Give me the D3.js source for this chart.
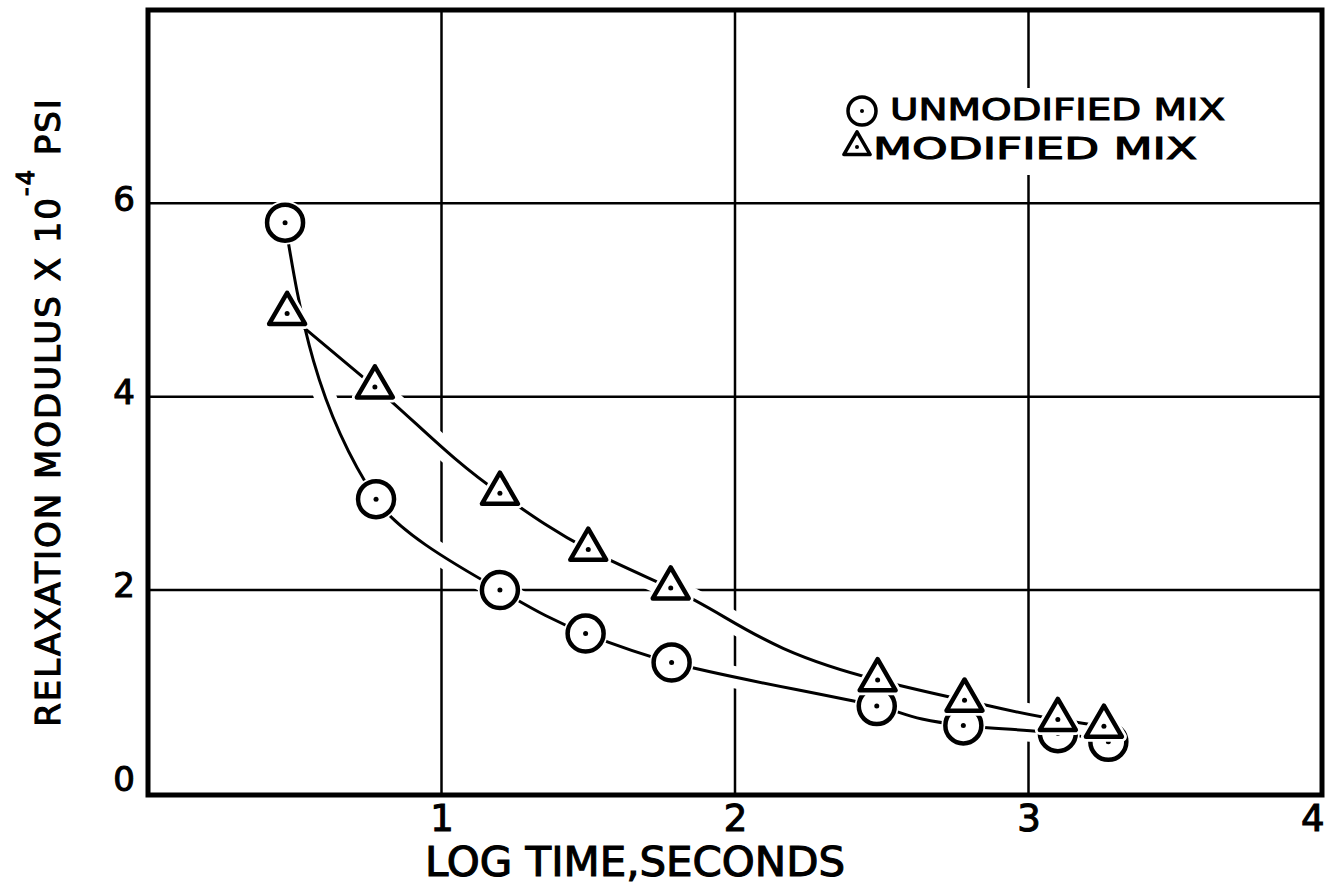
<!DOCTYPE html>
<html>
<head>
<meta charset="utf-8">
<script src="https://cdn.jsdelivr.net/npm/d3@7"></script>
<style>
	body { margin: 0; background: #fff; }
	svg { display: block; }
	text { font-family: "DejaVu Sans", sans-serif; fill: #000; stroke: #000; stroke-width: 1.1px; }
</style>
</head>
<body>
<div id="chart"></div>
<script>
// log time (seconds) and relaxation modulus x 10^-4 psi
var unmodTime  = [0.467, 0.777, 1.199, 1.491, 1.784, 2.483, 2.778, 3.10, 3.272];
var unmodValue = [5.80,  2.94,  2.00,  1.55,  1.25,  0.80,  0.60,  0.52, 0.43];
var modTime    = [0.474, 0.773, 1.199, 1.50,  1.781, 2.486, 2.782, 3.10, 3.257];
var modValue   = [4.86,  4.10,  3.00,  2.42,  2.02,  1.07,  0.86,  0.66, 0.59];

var xTicks     = [1, 2, 3, 4];
var yTicks     = [0, 2, 4, 6];
var xGrid      = [1, 2, 3];
var yGrid      = [2, 4, 6];
var legendText = ['UNMODIFIED MIX', 'MODIFIED MIX'];

var width = 1328, height = 889;
var margin = {top: 10, right: 6, bottom: 94, left: 148};

var svg = d3.select('#chart').append('svg')
	.attr('width', width)
	.attr('height', height);

var x = d3.scaleLinear()
	.domain([0, 4])
	.range([margin.left, width - margin.right]);

// the hand drawn base line sits a bit below the zero level
var y = d3.scaleLinear()
	.domain([-0.12, 8])
	.range([height - margin.bottom, margin.top]);

var unmod = unmodTime.map(function(t, i) { return {x: t, y: unmodValue[i]}; });
var mod   = modTime.map(function(t, i) { return {x: t, y: modValue[i]}; });

// grid
var grid = svg.append('g').attr('stroke', '#000').attr('stroke-width', 2.5);
grid.selectAll('.vgrid')
	.data(xGrid)
	.enter().append('line')
	.attr('x1', function(d) { return x(d); })
	.attr('x2', function(d) { return x(d); })
	.attr('y1', y.range()[1])
	.attr('y2', y.range()[0]);
grid.selectAll('.hgrid')
	.data(yGrid)
	.enter().append('line')
	.attr('y1', function(d) { return y(d); })
	.attr('y2', function(d) { return y(d); })
	.attr('x1', x.range()[0])
	.attr('x2', x.range()[1]);

// tick labels
var xAxis = d3.axisBottom(x).tickValues(xTicks).tickSize(0).tickPadding(10)
	.tickFormat(d3.format('d'));
var gx = svg.append('g')
	.attr('transform', 'translate(0,' + y.range()[0] + ')')
	.call(xAxis);
gx.select('.domain').remove();
gx.selectAll('text')
	.style('font-size', '37px')
	.attr('fill', '#000');
// last label would run off the page, keep it inside like the original
gx.selectAll('text').filter(function(d) { return d === 4; })
	.attr('text-anchor', 'end')
	.attr('x', 2);

var yAxis = d3.axisLeft(y).tickValues(yTicks).tickSize(0).tickPadding(13);
var gy = svg.append('g')
	.attr('transform', 'translate(' + x.range()[0] + ',0)')
	.call(yAxis);
gy.select('.domain').remove();
gy.selectAll('text')
	.style('font-size', '34px')
	.attr('dy', '0.2em')
	.attr('fill', '#000');

// curves: white halo first so the grid is broken where a curve crosses it
var line = d3.line()
	.x(function(d) { return x(d.x); })
	.y(function(d) { return y(d.y); })
	.curve(d3.curveMonotoneY);

var curves = svg.append('g').attr('fill', 'none');
[unmod, mod].forEach(function(s) {
	curves.append('path')
		.attr('d', line(s))
		.attr('stroke', '#fff')
		.attr('stroke-width', 22);
});
[unmod, mod].forEach(function(s) {
	curves.append('path')
		.attr('d', line(s))
		.attr('stroke', '#000')
		.attr('stroke-width', 3);
});

// markers
var tri = d3.symbol().type(d3.symbolTriangle).size(560);

function drawCircles(g, data, r) {
	var m = g.selectAll(null)
		.data(data)
		.enter().append('g')
		.attr('transform', function(d) { return 'translate(' + x(d.x) + ',' + y(d.y) + ')'; });
	m.append('circle').attr('r', r + 4).attr('fill', '#fff');
	m.append('circle').attr('r', r)
		.attr('fill', '#fff').attr('stroke', '#000').attr('stroke-width', 4.5);
	m.append('circle').attr('r', 2.5).attr('fill', '#000');
}

function drawTriangles(g, data) {
	var m = g.selectAll(null)
		.data(data)
		.enter().append('g')
		.attr('transform', function(d) { return 'translate(' + x(d.x) + ',' + y(d.y) + ')'; });
	m.append('path').attr('d', tri)
		.attr('fill', '#fff').attr('stroke', '#fff').attr('stroke-width', 10).attr('stroke-linejoin', 'round');
	m.append('path').attr('d', tri)
		.attr('fill', '#fff').attr('stroke', '#000').attr('stroke-width', 4.5).attr('stroke-linejoin', 'round');
	m.append('circle').attr('r', 2.5).attr('fill', '#000');
}

var marks = svg.append('g');
drawCircles(marks.append('g'), unmod, 18);
drawTriangles(marks.append('g'), mod);

// frame
svg.append('rect')
	.attr('x', x.range()[0])
	.attr('y', y.range()[1])
	.attr('width', x.range()[1] - x.range()[0])
	.attr('height', y.range()[0] - y.range()[1])
	.attr('fill', 'none')
	.attr('stroke', '#000')
	.attr('stroke-width', 5);

// legend
var legend = svg.append('g');
legend.append('rect')
	.attr('x', 840).attr('y', 88)
	.attr('width', 395).attr('height', 87)
	.attr('fill', '#fff');

var lc = legend.append('g').attr('transform', 'translate(862,111)');
lc.append('circle').attr('r', 14).attr('fill', '#fff').attr('stroke', '#000').attr('stroke-width', 3.5);
lc.append('circle').attr('r', 2).attr('fill', '#000');

var lt = legend.append('g').attr('transform', 'translate(857,147)');
lt.append('path').attr('d', d3.symbol().type(d3.symbolTriangle).size(300))
	.attr('fill', '#fff').attr('stroke', '#000').attr('stroke-width', 3.5).attr('stroke-linejoin', 'round');
lt.append('circle').attr('r', 2).attr('fill', '#000');

legend.selectAll('.legend-text')
	.data(legendText)
	.enter().append('text')
	.attr('x', function(d, i) { return i === 0 ? 890 : 873; })
	.attr('y', function(d, i) { return i === 0 ? 120 : 159; })
	.attr('textLength', function(d, i) { return i === 0 ? 335 : 324; })
	.attr('lengthAdjust', 'spacingAndGlyphs')
	.style('font-size', '30px')
	.text(function(d) { return d; });

// axis titles
svg.append('text')
	.attr('x', 635)
	.attr('y', 876)
	.attr('text-anchor', 'middle')
	.attr('textLength', 420)
	.attr('lengthAdjust', 'spacingAndGlyphs')
	.style('font-size', '40px')
	.text('LOG TIME,SECONDS');

var yTitle = svg.append('text')
	.attr('transform', 'translate(60,412) rotate(-90)')
	.attr('text-anchor', 'middle')
	.style('font-size', '34px')
	.style('letter-spacing', '2px');
yTitle.append('tspan').text('RELAXATION MODULUS X 10');
yTitle.append('tspan').attr('dy', -26).style('font-size', '24px').text('-4');
yTitle.append('tspan').attr('dy', 26).text(' PSI');
</script>
</body>
</html>
